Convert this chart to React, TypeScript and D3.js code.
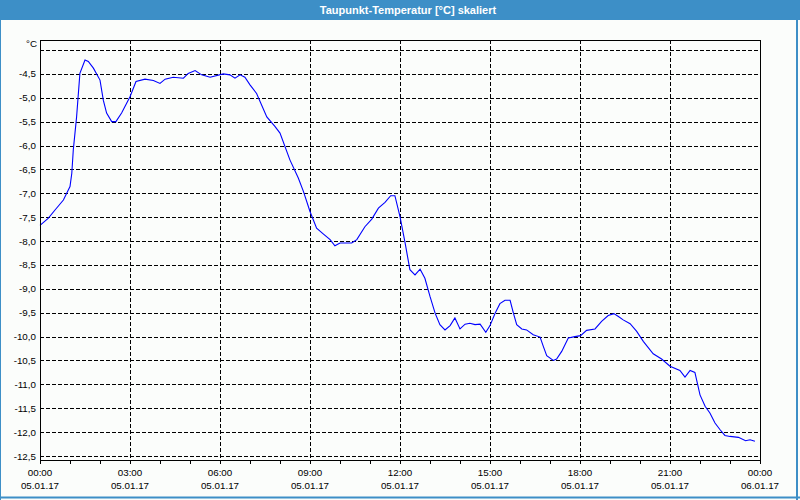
import React from "react";
import * as d3 from "d3";

const hours = [0, 0.28, 0.5, 0.78, 1.0, 1.06, 1.11, 1.22, 1.33, 1.5, 1.61, 1.78, 2.0, 2.11, 2.22, 2.39, 2.53, 2.72, 3.0, 3.2, 3.5, 3.78, 4.0, 4.17, 4.44, 4.78, 4.94, 5.17, 5.39, 5.67, 6.11, 6.33, 6.5, 6.67, 6.83, 7.0, 7.22, 7.56, 7.83, 8.0, 8.33, 8.61, 8.78, 9.0, 9.22, 9.44, 9.67, 9.83, 10.0, 10.39, 10.56, 10.83, 11.06, 11.28, 11.5, 11.69, 11.83, 12.0, 12.17, 12.33, 12.5, 12.67, 12.83, 13.0, 13.17, 13.33, 13.5, 13.67, 13.83, 14.0, 14.17, 14.33, 14.5, 14.67, 14.86, 15.0, 15.17, 15.33, 15.5, 15.67, 15.78, 15.89, 16.06, 16.22, 16.44, 16.67, 16.78, 16.89, 17.11, 17.22, 17.39, 17.61, 17.83, 18.02, 18.22, 18.5, 18.72, 18.94, 19.13, 19.28, 19.44, 19.67, 19.89, 20.11, 20.44, 20.72, 21.0, 21.33, 21.5, 21.67, 21.83, 22.0, 22.17, 22.33, 22.5, 22.67, 22.83, 23.0, 23.28, 23.52, 23.67, 23.83];
const dewpoint = [-7.67, -7.52, -7.35, -7.14, -6.86, -6.58, -6.09, -5.40, -4.49, -4.21, -4.24, -4.38, -4.63, -5.05, -5.32, -5.50, -5.50, -5.32, -4.98, -4.66, -4.61, -4.64, -4.70, -4.61, -4.57, -4.59, -4.49, -4.43, -4.52, -4.57, -4.50, -4.52, -4.59, -4.52, -4.57, -4.73, -4.91, -5.40, -5.60, -5.74, -6.30, -6.68, -6.96, -7.38, -7.73, -7.85, -7.97, -8.10, -8.04, -8.04, -7.97, -7.70, -7.54, -7.31, -7.19, -7.05, -7.05, -7.49, -8.04, -8.60, -8.71, -8.59, -8.78, -9.16, -9.51, -9.75, -9.86, -9.77, -9.61, -9.84, -9.74, -9.72, -9.75, -9.74, -9.91, -9.77, -9.51, -9.31, -9.24, -9.24, -9.51, -9.75, -9.84, -9.86, -9.96, -10.01, -10.21, -10.40, -10.50, -10.47, -10.31, -10.03, -10.00, -9.98, -9.87, -9.84, -9.68, -9.56, -9.52, -9.58, -9.65, -9.73, -9.89, -10.10, -10.36, -10.47, -10.62, -10.71, -10.85, -10.71, -10.75, -11.22, -11.46, -11.60, -11.81, -11.95, -12.07, -12.09, -12.11, -12.18, -12.16, -12.19];

const yTicks = [-4.0, -4.5, -5.0, -5.5, -6.0, -6.5, -7.0, -7.5, -8.0, -8.5, -9.0, -9.5, -10.0, -10.5, -11.0, -11.5, -12.0, -12.5];
const xLabelHours = [0, 3, 6, 9, 12, 15, 18, 21, 24];
const xTimeLabels = ["00:00", "03:00", "06:00", "09:00", "12:00", "15:00", "18:00", "21:00", "00:00"];
const xDateLabels = ["05.01.17", "05.01.17", "05.01.17", "05.01.17", "05.01.17", "05.01.17", "05.01.17", "05.01.17", "06.01.17"];
const title = "Taupunkt-Temperatur [°C] skaliert";
const unit = "°C";

const W = 800, H = 500;
const L = 40, R = 760, T = 40, B = 460;
const FONT = "'Liberation Sans', Arial, sans-serif";

export default function App() {
  const x = d3.scaleLinear().domain([0, 24]).range([L, R]);
  const y = d3.scaleLinear().domain([-12.5, -4.0]).range([456, 50]);
  const pts = hours.map((h, i) => [h, dewpoint[i]] as [number, number]);
  const line = d3.line<[number, number]>().x(d => x(d[0])).y(d => y(d[1]));
  const hourTicks = d3.range(0, 25);
  const fmt = (v: number) => v.toFixed(1).replace(".", ",");
  const px = (v: number) => Math.round(v) + 0.5;

  return (
    <svg width={W} height={H} style={{ position: "absolute", left: 0, top: 0, display: "block" }}>
      <rect x={0} y={0} width={W} height={H} fill="#fbfdfb" />
      <rect x={0} y={0} width={W} height={20} fill="#3d8fc7" />
      <line x1={0.5} y1={0} x2={0.5} y2={H} stroke="#3d8fc7" strokeWidth={1} />
      <line x1={797} y1={0} x2={797} y2={H} stroke="#3d8fc7" strokeWidth={2} />
      <line x1={0} y1={497.5} x2={W} y2={497.5} stroke="#3d8fc7" strokeWidth={2} />
      <text x={408} y={14} textAnchor="middle" fill="#ffffff" fontFamily={FONT} fontSize={11} fontWeight="bold">{title}</text>

      {yTicks.map(v => (
        <line key={"h" + v} x1={L} x2={R} y1={px(y(v))} y2={px(y(v))} stroke="#000" strokeDasharray="4,2" shapeRendering="crispEdges" />
      ))}
      {xLabelHours.filter(h => h > 0 && h < 24).map(h => (
        <line key={"v" + h} x1={px(x(h))} x2={px(x(h))} y1={T} y2={B} stroke="#000" strokeDasharray="4,2" shapeRendering="crispEdges" />
      ))}

      <path d={line(pts) || ""} fill="none" stroke="#0000ff" strokeWidth={1.1} />

      <rect x={L + 0.5} y={T + 0.5} width={R - L} height={B - T} fill="none" stroke="#000" strokeWidth={1} shapeRendering="crispEdges" />
      {hourTicks.map(h => (
        <line key={"t" + h} x1={px(x(h))} x2={px(x(h))} y1={B} y2={B + 4} stroke="#000" shapeRendering="crispEdges" />
      ))}

      {yTicks.filter(v => v < -4.0).map(v => (
        <text key={"yl" + v} x={36} y={y(v) + 3.5} textAnchor="end" fontFamily={FONT} fontSize={9.8} fill="#000">{fmt(v)}</text>
      ))}
      <text x={37} y={47} textAnchor="end" fontFamily={FONT} fontSize={9.8} fill="#000">{unit}</text>

      {xLabelHours.map((h, i) => (
        <g key={"xl" + i}>
          <text x={x(h)} y={476} textAnchor="middle" fontFamily={FONT} fontSize={9.8} fill="#000">{xTimeLabels[i]}</text>
          <text x={x(h)} y={489} textAnchor="middle" fontFamily={FONT} fontSize={9.8} fill="#000">{xDateLabels[i]}</text>
        </g>
      ))}
    </svg>
  );
}
